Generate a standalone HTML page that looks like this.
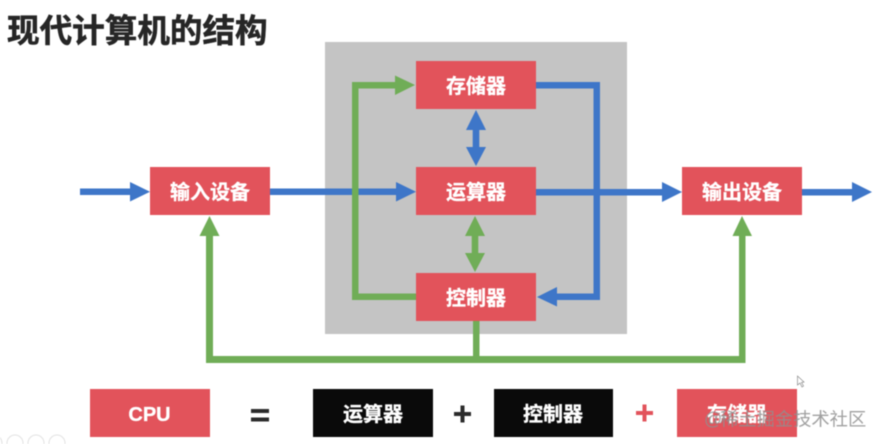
<!DOCTYPE html>
<html lang="zh">
<head>
<meta charset="utf-8">
<style>
html,body{margin:0;padding:0;background:#fff;}
body{width:882px;height:444px;overflow:hidden;}
svg{display:block;filter:blur(.4px);}
text{font-family:"Liberation Sans","Noto Sans CJK SC",sans-serif;}
.b{font-size:20px;font-weight:700;fill:#fff;text-anchor:middle;stroke:#fff;stroke-width:.3px;}
</style>
</head>
<body>
<svg width="882" height="444" viewBox="0 0 882 444" xmlns="http://www.w3.org/2000/svg">
<rect width="882" height="444" fill="#fff"/>
<text x="7" y="42" font-size="32.6" font-weight="700" fill="#262626" stroke="#262626" stroke-width=".5">现代计算机的结构</text>
<rect x="325" y="42" width="302" height="292" fill="#c4c4c4"/>

<!-- blue connectors -->
<g fill="#3e76c8">
<rect x="80" y="188.5" width="51" height="6.5"/><polygon points="130,182 150,191.7 130,201.5"/>
<rect x="270" y="188.5" width="127" height="6.5"/><polygon points="396,182 416,191.7 396,201.5"/>
<rect x="536" y="189" width="127" height="6.5"/><polygon points="662,182 682,192 662,202"/>
<rect x="802" y="189" width="51" height="6.5"/><polygon points="852,182 872,192 852,202"/>
<polygon points="536,82 600,82 600,300 557,300 557,306.5 537,297 557,287 557,293.5 593.5,293.5 593.5,88.5 536,88.5"/>
<polygon points="476,110 486,130 479.3,130 479.3,147 486,147 476,166 466,147 472.7,147 472.7,130 466,130"/>
</g>

<!-- green connectors -->
<g fill="#70ad57">
<polygon points="352,82 395,82 395,75.5 415,85 395,95 395,88.5 358.5,88.5 358.5,293.5 416,293.5 416,300 352,300"/>
<polygon points="475,216 485,236 478.3,236 478.3,253 485,253 475,272 465,253 471.7,253 471.7,236 465,236"/>
<rect x="473" y="321" width="6.5" height="38"/>
<polygon points="206,236 199.5,236 209.5,216 219.5,236 213,236 213,356 739,356 739,236 732.5,236 742,216 752,236 745.5,236 745.5,363 206,363"/>
</g>

<!-- nodes -->
<g fill="#e2535b">
<rect x="150" y="167" width="120" height="48"/>
<rect x="416" y="61" width="120" height="48"/>
<rect x="416" y="167" width="120" height="48"/>
<rect x="416" y="273" width="120" height="48"/>
<rect x="682" y="167" width="120" height="48"/>
<rect x="90" y="389" width="120" height="48"/>
<rect x="677" y="389" width="120" height="48"/>
</g>
<rect x="313" y="389" width="120" height="48" fill="#0a0a0a"/>
<rect x="494" y="389" width="119" height="48" fill="#0a0a0a"/>

<text class="b" x="210" y="199">输入设备</text>
<text class="b" x="476" y="93">存储器</text>
<text class="b" x="476" y="199">运算器</text>
<text class="b" x="476" y="305">控制器</text>
<text class="b" x="742" y="199">输出设备</text>
<text class="b" x="149.5" y="421">CPU</text>
<text class="b" x="373" y="421">运算器</text>
<text class="b" x="553" y="421">控制器</text>
<text class="b" x="737" y="421">存储器</text>

<!-- operators -->
<g fill="#2b2b2b">
<rect x="251" y="409" width="18" height="4"/>
<rect x="251" y="417.5" width="18" height="4"/>
<rect x="454" y="412" width="17" height="4"/>
<rect x="460.5" y="405.5" width="4" height="17"/>
</g>
<g fill="#e2535b">
<rect x="636" y="411" width="17" height="4"/>
<rect x="642.5" y="404.5" width="4" height="17"/>
</g>

<!-- watermark -->
<text x="704" y="425" font-size="18" fill="#8f8f8f" fill-opacity=".85">@</text>
<text x="720" y="425.5" font-size="18.3" fill="#8f8f8f" fill-opacity=".85">稀土掘金技术社区</text>

<!-- cursor -->
<polygon points="797.5,376 797.5,385 800,383 802,387 803.5,386 801.5,382.5 804,382" fill="#fff" stroke="#888" stroke-width=".7"/>

<!-- faint toolbar icons -->
<g fill="none" stroke="#e2e2e2" stroke-width="1">
<circle cx="-6" cy="443" r="8"/>
<circle cx="15" cy="443" r="8"/>
<circle cx="36" cy="443" r="8"/>
<circle cx="57" cy="443" r="8"/>
</g>
</svg>
</body>
</html>
